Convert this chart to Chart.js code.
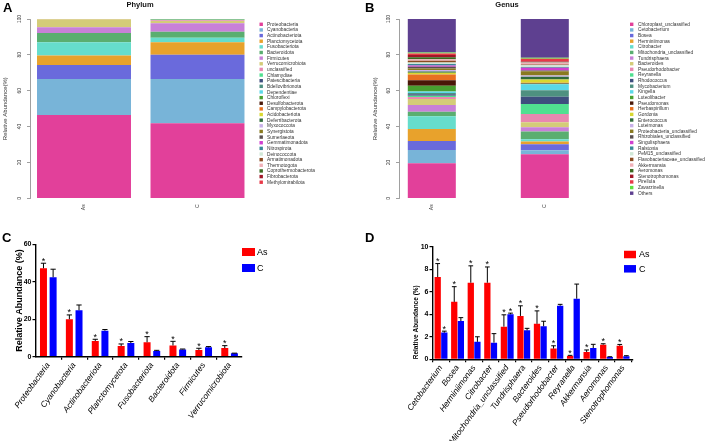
<!DOCTYPE html>
<html><head><meta charset="utf-8">
<script src="https://cdn.jsdelivr.net/npm/chart.js@4.4.0/dist/chart.umd.min.js"></script>
<style>
html,body{margin:0;padding:0;background:#fff;width:708px;height:441px;overflow:hidden;position:relative;}
canvas{position:absolute;}
.lbl{position:absolute;font:bold 13px 'Liberation Sans',Arial,sans-serif;color:#000;line-height:13px;}
</style></head><body>
<canvas id="cA" width="354" height="220" style="left:0px;top:0px"></canvas>
<canvas id="cB" width="354" height="220" style="left:354px;top:0px"></canvas>
<canvas id="cC" width="354" height="221" style="left:0px;top:220px"></canvas>
<canvas id="cD" width="354" height="221" style="left:354px;top:220px"></canvas>
<div class="lbl" style="left:3px;top:1px">A</div>
<div class="lbl" style="left:365px;top:1px">B</div>
<div class="lbl" style="left:2px;top:231px">C</div>
<div class="lbl" style="left:365px;top:231px">D</div>
<script>
// ---------------- DATA ----------------
const groups = ['As', 'C'];

const phyla = ['Proteobacteria','Cyanobacteria','Actinobacteriota','Planctomycetota','Fusobacteriota','Bacteroidota','Firmicutes','Verrucomicrobiota','unclassified','Chlamydiae','Patescibacteria','Bdellovibrionota','Dependentiae','Chloroflexi','Desulfobacterota','Campylobacterota','Acidobacteriota','Deferribacterota','Myxococcota','Synergistota','Sumerlaeota','Gemmatimonadota','Nitrospirota','Deinococcota','Armatimonadota','Thermotogota','Coprothermobacterota','Fibrobacterota','Methylomirabilota'];
const phylumAs = [46.5,20.1,7.8,5.2,7.4,5.2,3.2,4.5,0.08,0.04,0.03,0.03,0.02,0.02,0.02,0.01,0.01,0.01,0.01,0.005,0.005,0.005,0.005,0.005,0.005,0.005,0.005,0.005,0.005];
const phylumC = [41.9,24.7,13.4,7.1,2.4,3.35,4.8,1.3,0.4,0.2,0.1,0.08,0.06,0.05,0.03,0.02,0.02,0.01,0.01,0.01,0.01,0.01,0.01,0.01,0.01,0.01,0.01,0.01,0.01];
const phylumColors = ['#E2409A','#78B4D8','#6A6ADC','#E8A22C','#66DDCC','#5AAE70','#C880D8','#D4CC78','#E888B0','#50E090','#3E4E7E','#4E9080','#5AD8E8','#48A030','#4A1808','#E87020','#D8D830','#2E6A3A','#C8B0E8','#8A7A20','#5A5050','#D040D0','#3A8898','#D0E8D8','#8A4A20','#F0B0B8','#3A6A20','#A01828','#E83848'];

const genera = ['Chloroplast_unclassified','Cetobacterium','Bosea','Herminiimonas','Citrobacter','Mitochondria_unclassified','Tundrisphaera','Bacteroides','Pseudorhodobacter','Reyranella','Rhodococcus','Mycobacterium','Kingella','Luteolibacter','Pseudomonas','Herbaspirillum','Gordonia','Enterococcus','Luteimonas','Proteobacteria_unclassified','Rhizobiales_unclassified','Singulisphaera','Ralstonia','PeM15_unclassified','Flavobacteriaceae_unclassified','Akkermansia','Aeromonas','Stenotrophomonas','Pirellula','Zavarzinella','Others'];
const genusAs = [19.6,7.4,5.0,6.6,7.1,2.6,3.8,3.3,1.1,0.7,0.9,0.6,0.9,3.2,3.0,3.2,1.0,0.7,0.9,0.8,0.9,0.8,0.8,0.8,1.0,0.8,1.2,1.2,0.8,0.6,18.7];
const genusC = [24.6,2.2,3.4,1.5,1.3,4.2,2.4,2.8,4.6,5.6,4.1,3.5,3.4,0.3,0.2,0.3,1.9,1.5,0.7,2.3,0.5,1.5,0.4,1.0,0.4,1.2,0.2,0.3,1.5,0.6,21.6];
const genusColors = ['#E2409A','#78B4D8','#6A6ADC','#E8A22C','#66DDCC','#5AAE70','#C880D8','#D4CC78','#E888B0','#50E090','#3E4E7E','#4E9080','#5AD8E8','#48A030','#4A1808','#E87020','#D8D830','#2E6A3A','#C8B0E8','#8A7A20','#5A5050','#D040D0','#3A8898','#D0E8D8','#8A4A20','#F0B0B8','#3A6A20','#A01828','#E83848','#60E040','#5E4090'];

const topPhyla = ['Proteobacteria','Cyanobacteria','Actinobacteriota','Planctomycetota','Fusobacteriota','Bacteroidota','Firmicutes','Verrucomicrobiota'];
const topPhylaAsMean = [47.2,20.0,8.4,5.7,7.7,6.0,3.6,4.6];
const topPhylaAsSE   = [2.7,2.3,0.9,1.1,3.0,2.2,0.9,1.3];
const topPhylaAsSig  = [1,1,1,1,1,1,1,1];
const topPhylaCMean  = [42.4,24.8,13.9,7.3,3.0,3.9,5.0,1.8];
const topPhylaCSE    = [4.3,2.8,0.6,0.8,0.4,0.2,0.4,0.1];
const topPhylaCSig   = [0,0,0,0,0,0,0,0];

const topGenera = ['Cetobacterium','Bosea','Herminiimonas','Citrobacter','Mitochondria_unclassified','Tundrisphaera','Bacteroides','Pseudorhodobacter','Reyranella','Akkermansia','Aeromonas','Stenotrophomonas'];
const topGeneraAsMean = [7.3,5.1,6.8,6.8,2.9,3.85,3.15,0.95,0.3,0.65,1.3,1.2];
const topGeneraAsSE   = [1.2,1.35,1.5,1.4,1.05,0.9,1.15,0.25,0.05,0.18,0.08,0.12];
const topGeneraAsSig  = [1,1,1,1,1,1,1,1,1,1,1,1];
const topGeneraCMean  = [2.37,3.4,1.55,1.48,4.0,2.57,2.93,4.76,5.38,1.0,0.2,0.27];
const topGeneraCSE    = [0.13,0.3,0.45,0.8,0.1,0.18,0.45,0.12,1.3,0.33,0.03,0.05];
const topGeneraCSig   = [1,0,0,0,1,0,0,0,0,0,0,0];

// ---------------- PLUGINS ----------------
Chart.defaults.font.family = "'Liberation Sans', Arial, Helvetica, sans-serif";
Chart.defaults.color = '#000';

const customLegend = {
  id: 'customLegend',
  afterDraw(chart, args, o) {
    if (!o || !o.display) return;
    const ctx = chart.ctx;
    ctx.save();
    ctx.font = o.font;
    ctx.textBaseline = 'middle';
    ctx.textAlign = 'left';
    chart.data.datasets.forEach((ds, i) => {
      const y = o.y + i * o.spacing;
      ctx.fillStyle = ds.backgroundColor;
      ctx.fillRect(o.x, y - o.boxH / 2, o.boxW, o.boxH);
      ctx.fillStyle = o.color;
      ctx.fillText(ds.label, o.textX, y + (o.textDy || 0));
    });
    ctx.restore();
  }
};

const errorBars = {
  id: 'errorBars',
  afterDatasetsDraw(chart, args, o) {
    if (!o || !o.display) return;
    const ctx = chart.ctx;
    const ys = chart.scales.y;
    ctx.save();
    chart.data.datasets.forEach((ds, i) => {
      const meta = chart.getDatasetMeta(i);
      meta.data.forEach((bar, j) => {
        const top = ds.data[j].y + ds.errors[j];
        const yt = ys.getPixelForValue(top);
        const cap = bar.width * o.capRatio;
        ctx.strokeStyle = '#000';
        ctx.lineWidth = o.lineWidth;
        ctx.beginPath();
        ctx.moveTo(bar.x, bar.y);
        ctx.lineTo(bar.x, yt);
        ctx.moveTo(bar.x - cap / 2, yt);
        ctx.lineTo(bar.x + cap / 2, yt);
        ctx.stroke();
        if (ds.stars[j]) {
          ctx.fillStyle = '#000';
          ctx.font = o.starFont;
          ctx.textAlign = 'center';
          ctx.textBaseline = 'alphabetic';
          ctx.fillText('*', bar.x, yt + o.starDy);
        }
      });
    });
    ctx.restore();
  }
};

// ---------------- STACKED (A, B) ----------------
function makeStacked(id, title, names, colors, valsAs, valsC, L) {
  const series = [valsAs, valsC];
  const datasets = names.map((n, k) => ({
    label: n,
    data: groups.map((g, gi) => ({ x: gi, y: series[gi][k] })),
    backgroundColor: colors[k],
    borderWidth: 0,
    barPercentage: L.barPct,
    categoryPercentage: 1
  }));
  return new Chart(document.getElementById(id), {
    type: 'bar',
    data: { datasets },
    options: {
      responsive: false, animation: false, devicePixelRatio: 1,
      layout: { padding: { left: 0, top: 0, right: L.padRight, bottom: 0 } },
      plugins: {
        legend: { display: false }, tooltip: { enabled: false },
        title: { display: true, text: title, fullSize: false, color: '#111',
                 font: { size: 7.5, weight: 'bold' }, padding: { top: 0.5, bottom: 9.5 } },
        customLegend: { display: true, x: L.legX, textX: L.legTextX, y: 24.3, spacing: L.legSpacing,
                        boxW: 3.4, boxH: 3.4, font: "4.8px 'Liberation Sans', Arial", color: '#333', textDy: 0.2 }
      },
      scales: {
        x: {
          type: 'linear', stacked: true, min: L.xMin, max: L.xMax, offset: false,
          afterBuildTicks: s => { s.ticks = groups.map((g, i) => ({ value: i })); },
          ticks: { callback: v => groups[v], minRotation: 90, maxRotation: 90, autoSkip: false,
                   font: { size: 5 }, color: '#333', padding: 6 },
          grid: { display: false, drawTicks: false },
          border: { display: false },
          afterFit: s => { s.height = L.xHeight; }
        },
        y: {
          stacked: true, min: 0, max: 100,
          ticks: { stepSize: 20, minRotation: 90, maxRotation: 90, crossAlign: 'center',
                   font: { size: 4.8 }, color: '#333', padding: 3.5 },
          grid: { drawOnChartArea: false, drawTicks: true, tickLength: 3, color: '#888', lineWidth: 0.8 },
          border: { display: true, color: '#888', width: 0.8 },
          title: { display: true, text: 'Relative Abundance(%)', color: '#333',
                   font: { size: 6 }, padding: { top: L.yTitlePad, bottom: 0 } },
          afterFit: s => { s.width = L.yWidth; }
        }
      }
    },
    plugins: [customLegend]
  });
}

makeStacked('cA', 'Phylum', phyla, phylumColors, phylumAs, phylumC, {
  barPct: 0.828, padRight: 104, xMin: -0.4758, xMax: 1.4626, xHeight: 21.7, yWidth: 30,
  yTitlePad: 1.4, legX: 259.5, legTextX: 267, legSpacing: 5.64
});
makeStacked('cB', 'Genus', genera, genusColors, genusAs, genusC, {
  barPct: 0.425, padRight: 93, xMin: -0.2903, xMax: 1.6212, xHeight: 21.7, yWidth: 45,
  yTitlePad: 18.1, legX: 276, legTextX: 284, legSpacing: 5.63
});

// ---------------- GROUPED (C, D) ----------------
function makeGrouped(id, cats, asMean, asSE, asSig, cMean, cSE, cSig, L) {
  const mk = (label, mean, se, sig, color) => ({
    label, backgroundColor: color, borderWidth: 0,
    data: cats.map((c, i) => ({ x: i, y: mean[i] })),
    errors: se, stars: sig,
    barPercentage: L.barPct, categoryPercentage: L.catPct
  });
  return new Chart(document.getElementById(id), {
    type: 'bar',
    data: { datasets: [mk('As', asMean, asSE, asSig, '#FF0000'), mk('C', cMean, cSE, cSig, '#0000FF')] },
    options: {
      responsive: false, animation: false, devicePixelRatio: 1,
      layout: { padding: { left: 0, top: L.padTop, right: L.padRight, bottom: 0 } },
      plugins: {
        legend: { display: false }, tooltip: { enabled: false },
        customLegend: { display: true, x: L.legX, textX: L.legTextX, y: L.legY, spacing: L.legSpacing,
                        boxW: L.legBoxW, boxH: L.legBoxH, font: "9px 'Liberation Sans', Arial", color: '#000', textDy: 0.5 },
        errorBars: { display: true, capRatio: 0.75, lineWidth: 1, starFont: "9px 'Liberation Sans', Arial", starDy: 0.5 }
      },
      scales: {
        x: {
          type: 'linear', min: L.xMin, max: L.xMax, offset: false,
          afterBuildTicks: s => { s.ticks = cats.map((c, i) => ({ value: i })); },
          ticks: { callback: v => cats[v], minRotation: 54, maxRotation: 54, autoSkip: false,
                   font: { size: L.xFont, style: 'italic' }, color: '#000', padding: 1 },
          grid: { drawOnChartArea: false, drawTicks: true, tickLength: 3, color: '#000', lineWidth: 1.2 },
          border: { display: true, color: '#000', width: 1.4 },
          afterFit: s => { s.height = L.xHeight; }
        },
        y: {
          min: 0, max: L.yMax,
          ticks: { stepSize: L.yStep, font: { size: 7, weight: 'bold' }, color: '#000', padding: L.yTickPad },
          grid: { drawOnChartArea: false, drawTicks: true, tickLength: 3, color: '#000', lineWidth: 1.2 },
          border: { display: true, color: '#000', width: 1.4 },
          title: { display: true, text: 'Relative Abundance (%)', color: '#000', align: L.yTitleAlign,
                   font: { size: L.yTitleFont, weight: 'bold' }, padding: { top: L.yTitlePad, bottom: 0 } },
          afterFit: s => { s.width = L.yWidth; }
        }
      }
    },
    plugins: [customLegend, errorBars]
  });
}

makeGrouped('cC', topPhyla, topPhylaAsMean, topPhylaAsSE, topPhylaAsSig, topPhylaCMean, topPhylaCSE, topPhylaCSig, {
  barPct: 0.725, catPct: 0.745, padTop: 24.3, padRight: 112.3, xMin: -0.494, xMax: 7.467, xHeight: 84.3,
  yWidth: 35.5, yMax: 60, yStep: 20, yTickPad: 1, yTitleFont: 9, yTitlePad: 14.6, yTitleAlign: 'center', xFont: 8.3,
  legX: 242, legTextX: 257, legY: 32, legSpacing: 16, legBoxW: 13, legBoxH: 8
});
makeGrouped('cD', topGenera, topGeneraAsMean, topGeneraAsSE, topGeneraAsSig, topGeneraCMean, topGeneraCSE, topGeneraCSig, {
  barPct: 0.95, catPct: 0.8, padTop: 26.7, padRight: 75, xMin: -0.514, xMax: 11.601, xHeight: 81.7,
  yWidth: 78.5, yMax: 10, yStep: 2, yTickPad: 1, yTitleFont: 6.5, yTitlePad: 58, yTitleAlign: 'start', xFont: 8.3,
  legX: 270, legTextX: 285, legY: 34.5, legSpacing: 14.3, legBoxW: 12, legBoxH: 7.5
});
</script>
</body></html>
